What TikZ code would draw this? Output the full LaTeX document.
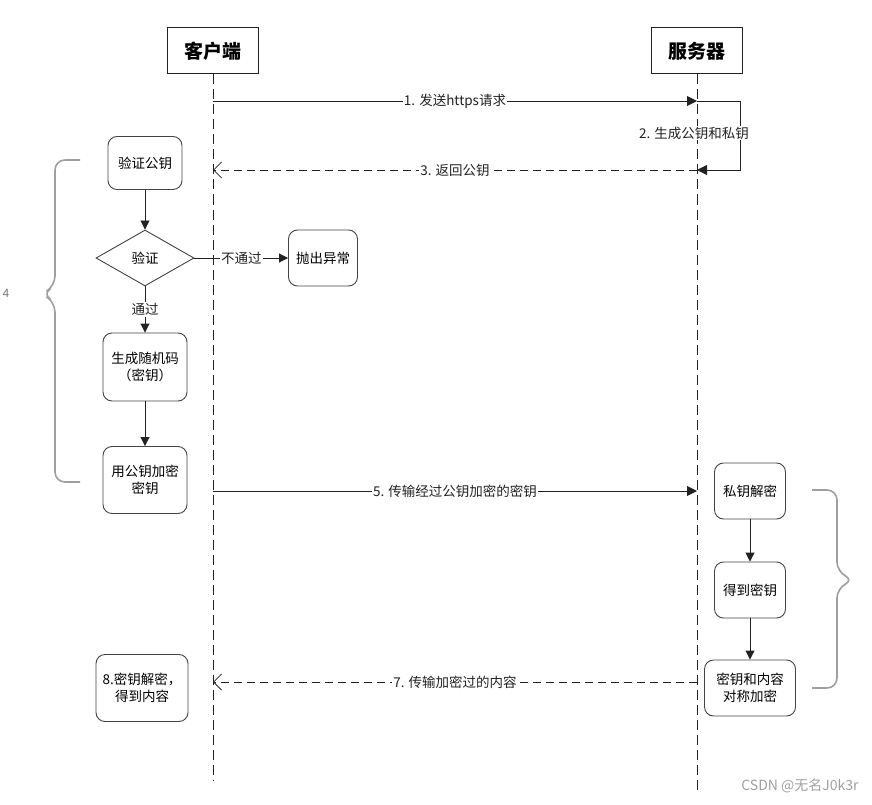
\documentclass[tikz,border=0pt]{standalone}
\usepackage{fontspec}
\setmainfont{Liberation Sans}
\newfontfamily\cjk{Noto Sans CJK SC}
\usetikzlibrary{arrows.meta,shapes.geometric}
\definecolor{ln}{HTML}{222222}
\definecolor{bx}{HTML}{444444}
\begin{document}
\begin{tikzpicture}[x=1pt,y=-1pt,
  font=\cjk\fontsize{13.5}{17}\selectfont,
  head/.style={draw=ln,line width=1pt,minimum width=91pt,minimum height=46pt,inner sep=0pt,font=\cjk\bfseries\fontsize{19}{22}\selectfont},
  box/.style={draw=bx,line width=0.9pt,rounded corners=9pt,align=center,inner sep=1pt},
  life/.style={draw=ln,line width=0.9pt,dash pattern=on 10pt off 5pt},
  msg/.style={draw=ln,line width=0.9pt,-{Triangle[length=10pt,width=10pt]}},
  rmsg/.style={draw=ln,line width=0.9pt,dash pattern=on 8pt off 5pt,-{Straight Barb[length=8pt,width=16pt,line width=0.8pt]}},
  flow/.style={draw=ln,line width=0.9pt,-{Triangle[length=9pt,width=9pt]}},
  lab/.style={fill=white,inner sep=1pt,text=ln},
  brace/.style={draw=gray!75,line width=1.6pt,rounded corners=10pt}]
\useasboundingbox (0,0) rectangle (872,805);

% lifelines
\node[head] (client) at (213,51) {客户端};
\node[head] (server) at (697,51) {服务器};
\coordinate (cbot) at (213,780);
\coordinate (sbot) at (697,792);
\draw[life] (client.south) -- (cbot);
\draw[life] (server.south) -- (sbot);

% message anchors
\coordinate (c1) at (213,101);
\coordinate (s1) at (697,101);
\coordinate (r1) at (740,101);
\coordinate (r2) at (740,170);
\coordinate (s3) at (697,170);
\coordinate (c3) at (213,170);
\coordinate (c5) at (213,491);
\coordinate (s5) at (697,491);
\coordinate (s7) at (697,682);
\coordinate (c7) at (213,682);

\draw[msg] (c1) -- node[lab] (l1) {1. 发送https请求} (s1);
\draw[msg] (s1) -- (r1) -- (r2) -- (s3);
\node[lab] (l2) at (694,133) {2. 生成公钥和私钥};
\draw[rmsg] (s3) -- node[lab] (l3) {3. 返回公钥} (c3);
\draw[msg] (c5) -- node[lab] (l5) {5. 传输经过公钥加密的密钥} (s5);
\draw[rmsg] (s7) -- node[lab] (l7) {7. 传输加密过的内容} (c7);

% client flow
\node[box,minimum width=74pt,minimum height=53pt] (v1) at (145,163) {验证公钥};
\node[draw=bx,line width=0.9pt,diamond,minimum width=98pt,minimum height=56pt,inner sep=0pt] (d) at (145,258) {验证};
\node[box,minimum width=69pt,minimum height=56pt] (ex) at (323,258) {抛出异常};
\node[box,minimum width=84pt,minimum height=68pt] (g) at (145,367) {生成随机码\\（密钥）};
\node[box,minimum width=84pt,minimum height=67pt] (e) at (145,480) {用公钥加密\\密钥};
\node[box,minimum width=92pt,minimum height=67pt] (f8) at (142,688) {8.密钥解密，\\得到内容};

\draw[flow] (v1) -- (d);
\draw[flow] (d.east) -- node[lab] (lno) {不通过} (ex.west);
\draw[flow] (d.south) -- node[lab] (lyes) {通过} (g.north);
\draw[flow] (g) -- (e);

% server flow
\node[box,minimum width=71pt,minimum height=56pt] (p1) at (750,491) {私钥解密};
\node[box,minimum width=71pt,minimum height=56pt] (p2) at (750,590) {得到密钥};
\node[box,minimum width=91pt,minimum height=56pt] (p3) at (750,688) {密钥和内容\\对称加密};
\draw[flow] (p1) -- (p2);
\draw[flow] (p2) -- (p3);

% braces
\draw[brace] (80,160) -- (55,160) -- (55,286) -- (42,294) -- (55,302) -- (55,482) -- (80,482);
\node[font=\fontsize{12}{14}\selectfont\rmfamily,text=gray!90!black] (four) at (6,293) {4};
\draw[brace] (812,490) -- (837,490) -- (837,572) -- (854,580) -- (837,588) -- (837,688) -- (812,688);

% watermark
\node[text=gray!75,font=\cjk\fontsize{14}{16}\selectfont] (wm) at (800,786) {CSDN @无名J0k3r};
\end{tikzpicture}
\end{document}
